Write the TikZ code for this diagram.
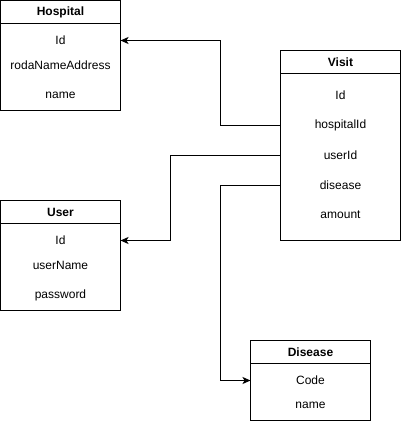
\documentclass[tikz,border=0pt]{standalone}
\usepackage{fontspec}
\setmainfont{Liberation Sans}
\usetikzlibrary{arrows.meta}
\begin{document}
\begin{tikzpicture}[x=1pt,y=-1pt,line width=1pt,
  tbl/.style={draw,anchor=north west,minimum width=120pt,inner sep=0pt,outer sep=0pt},
  field/.style={font=\fontsize{12}{14}\selectfont,inner sep=0pt},
  ttl/.style={font=\bfseries\fontsize{12}{14}\selectfont,inner sep=0pt},
  link/.style={-{Stealth[length=8pt,width=7pt,inset=2pt]}}]
\useasboundingbox (0,0) rectangle (401,421);
% Hospital
\node[tbl,minimum height=110pt] (hospital) at (0.5,0.5) {};
\draw (0.5,23.5) -- (120.5,23.5);
\node[ttl] (hospitalT) at (60.5,12) {Hospital};
\node[field] (hid) at (60.5,40.5) {Id};
\node[field] (hroad) at (60.5,65) {rodaNameAddress};
\node[field] (hname) at (60.5,95) {name};
% Visit
\node[tbl,minimum height=190pt] (visit) at (280.5,50.5) {};
\draw (280.5,73.5) -- (400.5,73.5);
\node[ttl] (visitT) at (340.5,62) {Visit};
\node[field] (vid) at (340.5,95) {Id};
\node[field] (vhosp) at (340.5,125.5) {hospitalId};
\node[field] (vuser) at (340.5,155.5) {userId};
\node[field] (vdis) at (340.5,185.5) {disease};
\node[field] (vamount) at (340.5,215) {amount};
% User
\node[tbl,minimum height=110pt] (user) at (0.5,200.5) {};
\draw (0.5,223.5) -- (120.5,223.5);
\node[ttl] (userT) at (60.5,212) {User};
\node[field] (uid) at (60.5,240.5) {Id};
\node[field] (uname) at (60.5,265) {userName};
\node[field] (upass) at (60.5,295) {password};
% Disease
\node[tbl,minimum height=80pt] (disease) at (250.5,340.5) {};
\draw (250.5,363.5) -- (370.5,363.5);
\node[ttl] (diseaseT) at (310.5,352) {Disease};
\node[field] (dcode) at (310.5,380.5) {Code};
\node[field] (dname) at (310.5,405) {name};
% Connectors
\draw[link] (vhosp -| visit.west) -- (220.5,125.5) -- (220.5,40.5) -- (hid -| hospital.east);
\draw[link] (vuser -| visit.west) -- (170.5,155.5) -- (170.5,240.5) -- (uid -| user.east);
\draw[link] (vdis -| visit.west) -- (220.5,185.5) -- (220.5,380.5) -- (dcode -| disease.west);
\end{tikzpicture}
\end{document}
